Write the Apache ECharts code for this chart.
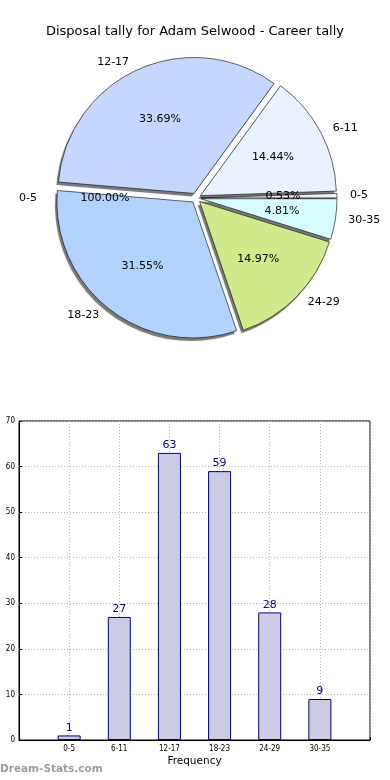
<!DOCTYPE html>
<html><head><meta charset="utf-8">
<script src="https://cdn.jsdelivr.net/npm/echarts@6/dist/echarts.min.js"></script>
<style>html,body{margin:0;padding:0;background:#fff}#c{width:390px;height:780px}</style>
</head><body><div id="c"></div>
<script>
const titleText = 'Disposal tally for Adam Selwood - Career tally';
const categories = ['0-5', '6-11', '12-17', '18-23', '24-29', '30-35'];
const values = [1, 27, 63, 59, 28, 9];
const pieColors = ['#f0f0f0', '#eaf1ff', '#c4d8ff', '#b3d3ff', '#d0ea8c', '#d8ffff'];
const phantomName = '0-5';
const phantomValue = [1];
const yTicks = [0, 10, 20, 30, 40, 50, 60, 70];

const FONT = 'DejaVu Sans';
const chart = echarts.init(document.getElementById('c'), null, {renderer: 'canvas'});

const total = values.reduce((a, b) => a + b, 0);
const pctFmt = p => (p.value / total * 100).toFixed(2) + '%';
const phantomTotal = phantomValue.reduce((a, b) => a + b, 0);
const pctPhantom = p => (p.value / phantomTotal * 100).toFixed(2) + '%';

const pieData = categories.map((c, i) => ({
  name: c, value: values[i], selected: true,
  itemStyle: {color: pieColors[i]}
}));
const pieCommon = {
  type: 'pie', center: [196, 198], startAngle: 0, clockwise: false,
  selectedMode: 'multiple', selectedOffset: 5, avoidLabelOverlap: false,
  emphasis: {disabled: true}, animation: false
};

const option = {
  animation: false,
  title: {text: titleText, left: 'center', top: 20,
    textStyle: {fontFamily: FONT, fontSize: 13, fontWeight: 'normal', color: '#000'}},
  grid: {left: 19, right: 20, top: 421, bottom: 40, show: true, borderColor: '#000', borderWidth: 1},
  xAxis: {
    type: 'category', boundaryGap: false, data: [''].concat(categories, ['']),
    axisLine: {lineStyle: {color: '#000'}},
    axisTick: {inside: true, length: 3, lineStyle: {color: '#000'}},
    axisLabel: {fontFamily: 'DejaVu Sans Condensed', fontSize: 8, color: '#000', margin: 5, interval: 0},
    splitLine: {show: true, lineStyle: {color: '#b5b5b5', type: [1, 2]}},
    name: 'Frequency', nameLocation: 'middle', nameGap: 16,
    nameTextStyle: {fontFamily: FONT, fontSize: 10.5, color: '#000'}
  },
  yAxis: {
    type: 'value', min: yTicks[0], max: yTicks[yTicks.length - 1], interval: yTicks[1] - yTicks[0],
    axisLine: {show: true, lineStyle: {color: '#000'}},
    axisTick: {show: true, inside: true, length: 3, lineStyle: {color: '#000'}},
    axisLabel: {fontFamily: 'DejaVu Sans Condensed', fontSize: 8, color: '#000', margin: 4},
    splitLine: {show: true, lineStyle: {color: '#b5b5b5', type: [1, 2]}}
  },
  graphic: [{type: 'text', left: 0, top: 764,
    style: {text: 'Dream-Stats.com', fill: '#9c9c9c', font: 'bold 10.5px "DejaVu Sans"'}}],
  series: [
    Object.assign({}, pieCommon, {
      name: 'shadow', radius: 136, center: [194, 201], silent: true, z: 1,
      data: pieData.map(d => Object.assign({}, d, {itemStyle: {color: 'rgba(0,0,0,0.45)'}})),
      itemStyle: {borderWidth: 0, shadowColor: 'rgba(0,0,0,0.3)', shadowBlur: 2},
      label: {show: false}, labelLine: {show: false}
    }),
    Object.assign({}, pieCommon, {
      name: 'pie', radius: 136, data: pieData, z: 3,
      itemStyle: {borderColor: '#000', borderWidth: 0.6},
      label: {show: true, position: 'outside', formatter: '{b}', distanceToLabelLine: 5,
        fontFamily: FONT, fontSize: 11, color: '#000'},
      labelLine: {show: false, length: 8, length2: 0}
    }),
    Object.assign({}, pieCommon, {
      name: 'pct', radius: 158, silent: true, z: 5,
      data: pieData.map(d => Object.assign({}, d, {itemStyle: {color: 'rgba(0,0,0,0)'}})),
      itemStyle: {borderWidth: 0},
      label: {show: true, position: 'inside', formatter: pctFmt, fontFamily: FONT, fontSize: 11, color: '#000'},
      labelLine: {show: false}
    }),
    Object.assign({}, pieCommon, {
      name: 'phantom', radius: 136, silent: true, z: 6, selectedMode: false,
      data: phantomValue.map(v => ({name: phantomName, value: v})),
      itemStyle: {color: 'rgba(0,0,0,0)', borderWidth: 0},
      label: {show: true, position: 'outside', formatter: '{b}', distanceToLabelLine: 5,
        fontFamily: FONT, fontSize: 11, color: '#000'},
      labelLine: {show: false, length: 18, length2: 0}
    }),
    Object.assign({}, pieCommon, {
      name: 'phantomPct', radius: 176, silent: true, z: 6, selectedMode: false,
      data: phantomValue.map(v => ({name: phantomName, value: v})),
      itemStyle: {color: 'rgba(0,0,0,0)', borderWidth: 0},
      label: {show: true, position: 'inside', formatter: pctPhantom, fontFamily: FONT, fontSize: 11, color: '#000'},
      labelLine: {show: false}
    }),
    {
      type: 'bar', data: [null].concat(values, [null]), barWidth: 23,
      itemStyle: {color: '#cbcbe3', borderColor: '#000080', borderWidth: 1},
      label: {show: true, position: 'top', distance: 2, fontFamily: FONT, fontSize: 11, color: '#00008b'},
      emphasis: {disabled: true}
    }
  ]
};
chart.setOption(option);
</script></body></html>
